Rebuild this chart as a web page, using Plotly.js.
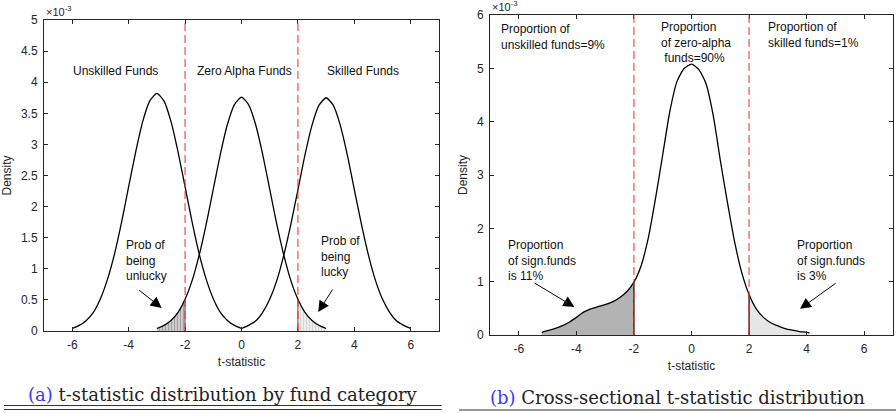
<!DOCTYPE html>
<html><head><meta charset="utf-8">
<script src="https://cdn.plot.ly/plotly-3.0.1.min.js"></script>
<style>html,body{margin:0;padding:0;background:#fff}#chart{width:896px;height:413px}</style>
</head><body><div id="chart"></div>
<script>
// ---------- Panel (a): densities (x 10^-3) ----------
const unskilledX = [-6,-5.75,-5.5,-5.25,-5,-4.75,-4.5,-4.25,-4,-3.75,-3.5,-3.25,-3,-2.75,-2.5,-2.25,-2,-1.75,-1.5,-1.25,-1,-0.75,-0.5,-0.25,0];
const unskilledY = [0.04,0.09,0.17,0.30,0.52,0.83,1.24,1.75,2.32,2.88,3.37,3.70,3.82,3.70,3.37,2.88,2.32,1.75,1.24,0.83,0.52,0.30,0.17,0.09,0.04];
const zeroX = [-3,-2.75,-2.5,-2.25,-2,-1.75,-1.5,-1.25,-1,-0.75,-0.5,-0.25,0,0.25,0.5,0.75,1,1.25,1.5,1.75,2,2.25,2.5,2.75,3];
const zeroY = [0.04,0.09,0.17,0.30,0.51,0.81,1.22,1.72,2.28,2.84,3.32,3.64,3.76,3.64,3.32,2.84,2.28,1.72,1.22,0.81,0.51,0.30,0.17,0.09,0.04];
const skilledX = [0,0.25,0.5,0.75,1,1.25,1.5,1.75,2,2.25,2.5,2.75,3,3.25,3.5,3.75,4,4.25,4.5,4.75,5,5.25,5.5,5.75,6];
const skilledY = [0.04,0.09,0.16,0.30,0.51,0.81,1.22,1.72,2.27,2.83,3.31,3.63,3.75,3.63,3.31,2.83,2.27,1.72,1.22,0.81,0.51,0.30,0.16,0.09,0.04];

// ---------- Panel (b): cross-sectional density (x 10^-3) ----------
const crossX = [-5.2,-5,-4.75,-4.5,-4.25,-4,-3.75,-3.5,-3.25,-3,-2.75,-2.5,-2.25,-2,-1.75,-1.5,-1.25,-1,-0.75,-0.5,-0.25,0,0.25,0.5,0.75,1,1.25,1.5,1.75,2,2.25,2.5,2.75,3,3.25,3.5,3.75,4,4.1];
const crossY = [0.05,0.08,0.12,0.17,0.24,0.33,0.43,0.49,0.53,0.57,0.62,0.70,0.81,0.99,1.30,1.82,2.56,3.38,4.20,4.76,5.00,5.08,4.98,4.72,4.13,3.28,2.48,1.74,1.16,0.76,0.49,0.33,0.23,0.17,0.12,0.09,0.065,0.05,0.04];

const thresholds = [-2, 2];
const xTickVals = [-6,-4,-2,0,2,4,6];
const xTickText = ['-6','-4','-2','0','2','4','6'];
const yTickValsA = [0,0.5,1,1.5,2,2.5,3,3.5,4,4.5,5];
const yTickTextA = ['0','0.5','1','1.5','2','2.5','3','3.5','4','4.5','5'];
const yTickValsB = [0,1,2,3,4,5,6];
const yTickTextB = ['0','1','2','3','4','5','6'];

function sub(xs, ys, f){ const X=[],Y=[]; xs.forEach((x,i)=>{ if(f(x)){X.push(x);Y.push(ys[i]);} }); return {x:X,y:Y}; }
function valAt(xs, ys, t){ return ys[xs.indexOf(t)]; }

const aLeft = sub(zeroX, zeroY, x => x <= thresholds[0]);
const aRight = sub(zeroX, zeroY, x => x >= thresholds[1]);
const bLeft = sub(crossX, crossY, x => x <= thresholds[0]);
const bRight = sub(crossX, crossY, x => x >= thresholds[1]);

const curve = {color:'#000', width:1.3, shape:'spline', smoothing:0.6};
const traces = [
  {x:aLeft.x, y:aLeft.y, xaxis:'x', yaxis:'y', mode:'lines', line:{width:0}, fill:'tozeroy', fillcolor:'#c4c4c4',
   fillpattern:{shape:'|', fgcolor:'#9a9a9a', bgcolor:'#cccccc', size:3, solidity:0.3}},
  {x:aRight.x, y:aRight.y, xaxis:'x', yaxis:'y', mode:'lines', line:{width:0}, fill:'tozeroy', fillcolor:'#ebebeb',
   fillpattern:{shape:'|', fgcolor:'#d2d2d2', bgcolor:'#ededed', size:3, solidity:0.3}},
  {x:bLeft.x, y:bLeft.y, xaxis:'x2', yaxis:'y2', mode:'lines', line:{width:0}, fill:'tozeroy', fillcolor:'#b3b3b3'},
  {x:bRight.x, y:bRight.y, xaxis:'x2', yaxis:'y2', mode:'lines', line:{width:0}, fill:'tozeroy', fillcolor:'#e6e6e6'},
  {x:[thresholds[0],thresholds[0]], y:[0, valAt(zeroX,zeroY,thresholds[0])], xaxis:'x', yaxis:'y', mode:'lines', line:{color:'#555',width:1}},
  {x:[thresholds[1],thresholds[1]], y:[0, valAt(zeroX,zeroY,thresholds[1])], xaxis:'x', yaxis:'y', mode:'lines', line:{color:'#555',width:1}},
  {x:[thresholds[0],thresholds[0]], y:[0, valAt(crossX,crossY,thresholds[0])], xaxis:'x2', yaxis:'y2', mode:'lines', line:{color:'#000',width:1.2}},
  {x:[thresholds[1],thresholds[1]], y:[0, valAt(crossX,crossY,thresholds[1])], xaxis:'x2', yaxis:'y2', mode:'lines', line:{color:'#000',width:1.2}},
  {x:unskilledX, y:unskilledY, xaxis:'x', yaxis:'y', mode:'lines', line:curve},
  {x:zeroX, y:zeroY, xaxis:'x', yaxis:'y', mode:'lines', line:curve},
  {x:skilledX, y:skilledY, xaxis:'x', yaxis:'y', mode:'lines', line:curve},
  {x:crossX, y:crossY, xaxis:'x2', yaxis:'y2', mode:'lines', line:curve}
];

const W=896, H=413;
const tickFont = {family:'Liberation Sans, Arial, sans-serif', size:12, color:'#262626'};
function xAxis(dom, anchor){ return {domain:dom, anchor:anchor, range:[-7,7], tickvals:xTickVals, ticktext:xTickText,
  ticks:'inside', ticklen:4, tickcolor:'#262626', showline:true, linecolor:'#262626', linewidth:1, mirror:'ticks',
  showgrid:false, zeroline:false, tickfont:tickFont, ticklabelstandoff:3,
  title:{text:'t-statistic', font:tickFont, standoff:6}}; }
function yAxis(dom, anchor, range, tv, tt){ return {domain:dom, anchor:anchor, range:range, tickvals:tv, ticktext:tt,
  ticks:'inside', ticklen:4, tickcolor:'#262626', showline:true, linecolor:'#262626', linewidth:1, mirror:'ticks',
  showgrid:false, zeroline:false, tickfont:tickFont, ticklabelstandoff:3,
  title:{text:'Density', font:tickFont, standoff:6}}; }

const txt = {family:'Liberation Sans, Arial, sans-serif', size:12, color:'#111'};
function lab(text, x, y, xr, yr, opts){ return Object.assign({text:text, x:x, y:y, xref:xr, yref:yr, showarrow:false, font:txt}, opts||{}); }
function arr(x, y, ax, ay, xr, yr){ return {text:'', x:x, y:y, ax:ax, ay:ay, xref:xr, yref:yr, axref:xr, ayref:yr,
  showarrow:true, arrowhead:2, arrowsize:2.2, arrowwidth:1, arrowcolor:'#000'}; }
const L = {xanchor:'left', align:'left', yanchor:'middle'};

const annotations = [
  lab('Unskilled Funds', -4.47, 4.18, 'x', 'y'),
  lab('Zero Alpha Funds', 0.1, 4.18, 'x', 'y'),
  lab('Skilled Funds', 4.29, 4.18, 'x', 'y'),
  lab('Prob of<br>being<br>unlucky', -4.15, 1.14, 'x', 'y', L),
  lab('Prob of<br>being<br>lucky', 2.75, 1.19, 'x', 'y', L),
  arr(-2.83, 0.37, -3.68, 0.675, 'x', 'y'),
  arr(2.72, 0.305, 3.26, 0.69, 'x', 'y'),
  lab('Proportion of<br>unskilled funds=9%', -6.68, 5.59, 'x2', 'y2', L),
  lab('Proportion<br>of zero-alpha<br> funds=90%', -1.13, 5.48, 'x2', 'y2', L),
  lab('Proportion of<br>skilled funds=1%', 2.58, 5.62, 'x2', 'y2', L),
  lab('Proportion<br>of sign.funds<br>is 11%', -6.44, 1.39, 'x2', 'y2', L),
  lab('Proportion<br>of sign.funds<br>is 3%', 3.59, 1.39, 'x2', 'y2', L),
  arr(-4.07, 0.525, -5.5, 0.99, 'x2', 'y2'),
  arr(3.77, 0.49, 5.06, 0.99, 'x2', 'y2'),
  lab('×10<sup>-3</sup>', 44/W, (H-20)/H, 'paper', 'paper', {xanchor:'left', yanchor:'bottom', font:{family:'Liberation Sans, Arial, sans-serif', size:11, color:'#262626'}}),
  lab('×10<sup>-3</sup>', 490/W, (H-15)/H, 'paper', 'paper', {xanchor:'left', yanchor:'bottom', font:{family:'Liberation Sans, Arial, sans-serif', size:11, color:'#262626'}}),
  lab('<span style="color:#3a3aff">(a)</span> t-statistic distribution by fund category', 222.5/W, (H-394)/H, 'paper', 'paper',
      {xanchor:'center', yanchor:'middle', font:{family:'DejaVu Serif, serif', size:18, color:'#222'}}),
  lab('<span style="color:#3a3aff">(b)</span> Cross-sectional t-statistic distribution', 677.5/W, (H-397)/H, 'paper', 'paper',
      {xanchor:'center', yanchor:'middle', font:{family:'DejaVu Serif, serif', size:18, color:'#222'}})
];

const red = {color:'rgba(255,40,40,0.85)', width:1.2, dash:'8px,4px'};
const shapes = [
  {type:'line', xref:'x', yref:'y domain', x0:thresholds[0], x1:thresholds[0], y0:0, y1:1, line:red},
  {type:'line', xref:'x', yref:'y domain', x0:thresholds[1], x1:thresholds[1], y0:0, y1:1, line:red},
  {type:'line', xref:'x2', yref:'y2 domain', x0:thresholds[0], x1:thresholds[0], y0:0, y1:1, line:red},
  {type:'line', xref:'x2', yref:'y2 domain', x0:thresholds[1], x1:thresholds[1], y0:0, y1:1, line:red},
  {type:'line', xref:'paper', yref:'paper', x0:4/W, x1:441.7/W, y0:(H-405.5)/H, y1:(H-405.5)/H, line:{color:'#333', width:1}},
  {type:'line', xref:'paper', yref:'paper', x0:4/W, x1:441.7/W, y0:(H-409.5)/H, y1:(H-409.5)/H, line:{color:'#333', width:1}},
  {type:'line', xref:'paper', yref:'paper', x0:459/W, x1:1, y0:(H-410)/H, y1:(H-410)/H, line:{color:'#333', width:1}}
];

const layout = {
  width:W, height:H, margin:{l:0,r:0,t:0,b:0}, paper_bgcolor:'#fff', plot_bgcolor:'#fff', showlegend:false,
  xaxis: xAxis([44/W, 439/W], 'y'),
  yaxis: yAxis([(H-331)/H, (H-20)/H], 'x', [0,5], yTickValsA, yTickTextA),
  xaxis2: xAxis([490/W, 893/W], 'y2'),
  yaxis2: yAxis([(H-335)/H, (H-15)/H], 'x2', [0,6], yTickValsB, yTickTextB),
  annotations: annotations, shapes: shapes, hovermode:false
};
Plotly.newPlot('chart', traces, layout, {staticPlot:true, displayModeBar:false});
</script></body></html>
